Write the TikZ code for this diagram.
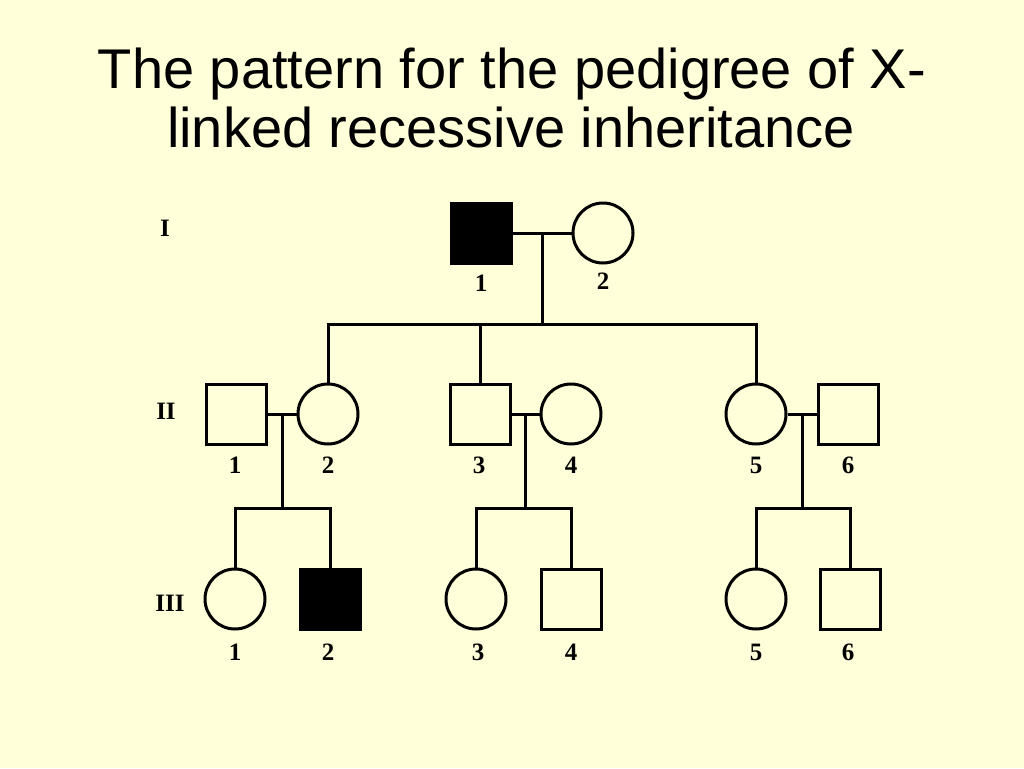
\documentclass[tikz,border=0pt]{standalone}
\usepackage{fontspec}
\setmainfont{Liberation Serif}
\newfontfamily\titlefont{Liberation Sans}
\usetikzlibrary{calc}
\definecolor{bgyellow}{RGB}{255,255,217}
\begin{document}
\begin{tikzpicture}[x=1pt,y=-1pt,line width=3pt,
  male/.style={draw,rectangle,minimum size=60pt,inner sep=0pt},
  female/.style={draw,circle,minimum size=60pt,inner sep=0pt},
  affected/.style={fill=black},
  num/.style={font=\bfseries\fontsize{25}{25}\selectfont,inner sep=0pt},
  gen/.style={font=\bfseries\fontsize{25}{25}\selectfont,inner sep=0pt},
  titletext/.style={font=\titlefont\fontsize{56}{59}\selectfont,anchor=base,inner sep=0pt},
  link/.style={draw,line width=3pt}]
\fill[bgyellow] (0,0) rectangle (1024,768);
\useasboundingbox (0,0) rectangle (1024,768);
\node[titletext] (title1) at (512,88) {The pattern for the pedigree of X-};
\node[titletext] (title2) at (511,147) {linked recessive inheritance};
% generation labels
\node[gen] (gI) at (165,228) {I};
\node[gen] (gII) at (166,411) {II};
\node[gen] (gIII) at (170,603) {III};
% generation I
\node[male,affected] (I1) at (481,233) {};
\node[female] (I2) at (603,233) {};
\node[num] (nI1) at (481,283) {1};
\node[num] (nI2) at (603,281) {2};
% generation II
\node[male] (II1) at (236,414) {};
\node[female] (II2) at (328,414) {};
\node[male] (II3) at (480,414) {};
\node[female] (II4) at (571,414) {};
\node[female] (II5) at (756,414) {};
\node[male] (II6) at (848,414) {};
\node[num] (nII1) at (235,465) {1};
\node[num] (nII2) at (328,465) {2};
\node[num] (nII3) at (479,465) {3};
\node[num] (nII4) at (571,465) {4};
\node[num] (nII5) at (756,465) {5};
\node[num] (nII6) at (848,465) {6};
% generation III
\node[female] (III1) at (235,599) {};
\node[male,affected] (III2) at (330,599) {};
\node[female] (III3) at (476,599) {};
\node[male] (III4) at (571,599) {};
\node[female] (III5) at (756,599) {};
\node[male] (III6) at (850,599) {};
\node[num] (nIII1) at (235,652) {1};
\node[num] (nIII2) at (328,652) {2};
\node[num] (nIII3) at (478,652) {3};
\node[num] (nIII4) at (571,652) {4};
\node[num] (nIII5) at (756,652) {5};
\node[num] (nIII6) at (848,652) {6};
% marriage and sibship coordinates
\coordinate (m1) at ($(I1.east)!0.5!(I2.west)$);
\coordinate (s1) at (m1 |- 0,324);
\coordinate (m2) at ($(II1.east)!0.5!(II2.west)$);
\coordinate (s2) at (m2 |- 0,508);
\coordinate (m3) at ($(II3.east)!0.5!(II4.west)$);
\coordinate (s3) at (m3 |- 0,508);
\coordinate (m4) at ($(II5.east)!0.5!(II6.west)$);
\coordinate (s4) at (m4 |- 0,508);
% connectors
\draw[link] (I1.east) -- (I2.west);
\draw[link] (m1) -- (s1);
\draw[link] (II2.north) |- (s1);
\draw[link] (II5.north) |- (s1);
\draw[link] (II3.north) -- (II3.north |- s1);
\draw[link] (II1.east) -- (II2.west);
\draw[link] (II3.east) -- (II4.west);
\draw[link] (II5.east) -- (II6.west);
\draw[link] (m2) -- (s2);
\draw[link] (m3) -- (s3);
\draw[link] (m4) -- (s4);
\draw[link] (III1.north) |- (s2);
\draw[link] (III2.north) |- (s2);
\draw[link] (III3.north) |- (s3);
\draw[link] (III4.north) |- (s3);
\draw[link] (III5.north) |- (s4);
\draw[link] (III6.north) |- (s4);
\end{tikzpicture}
\end{document}
